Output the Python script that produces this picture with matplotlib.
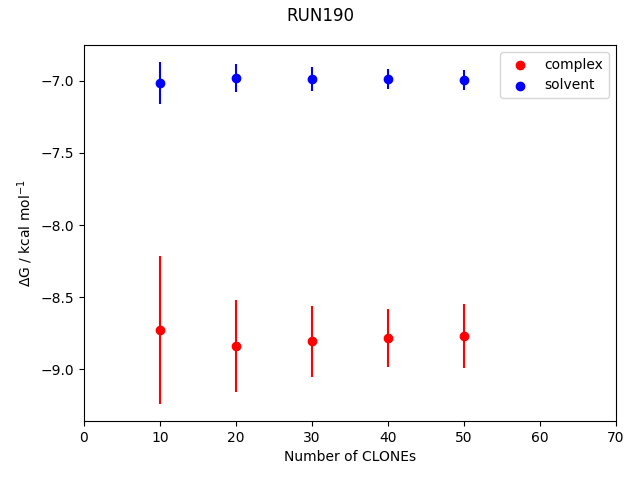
import matplotlib
matplotlib.use("Agg")
import matplotlib.pyplot as plt

clones = [10, 20, 30, 40, 50]
complex_dg = [-8.730, -8.841, -8.808, -8.785, -8.772]
complex_err = [0.512, 0.317, 0.248, 0.200, 0.224]
solvent_dg = [-7.016, -6.981, -6.988, -6.988, -6.993]
solvent_err = [0.147, 0.099, 0.082, 0.068, 0.068]

fig, ax = plt.subplots(figsize=(6.4, 4.8), dpi=100)
ax.errorbar(clones, complex_dg, yerr=complex_err, fmt='none', ecolor='red')
ax.errorbar(clones, solvent_dg, yerr=solvent_err, fmt='none', ecolor='blue')
ax.scatter(clones, complex_dg, color='red', label='complex', zorder=3)
ax.scatter(clones, solvent_dg, color='blue', label='solvent', zorder=3)
ax.set_xlim(0, 70)
ax.set_xlabel('Number of CLONEs')
ax.set_ylabel(r'$\Delta$G / kcal mol$^{-1}$')
fig.suptitle('RUN190', y=0.985)
ax.legend(loc='upper right')
fig.subplots_adjust(left=84/640, right=616/640, top=1-45/480, bottom=1-421/480)
fig.savefig('out.png')
